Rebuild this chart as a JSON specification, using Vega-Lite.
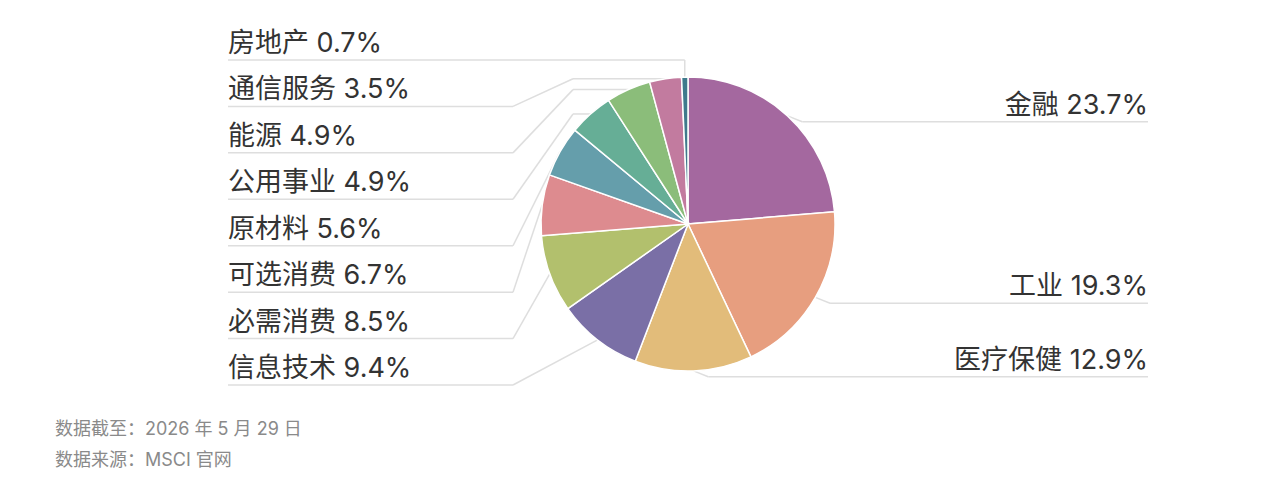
{
  "$schema": "https://vega.github.io/schema/vega-lite/v6.json",
  "width": 1280,
  "height": 503,
  "autosize": {"type": "none"},
  "padding": 0,
  "background": "#ffffff",
  "config": {"view": {"stroke": null}, "font": "Inter, Noto Sans CJK SC"},
  "title": {
    "text": ["数据截至：2026 年 5 月 29 日", "数据来源：MSCI 官网"],
    "orient": "bottom",
    "anchor": "start",
    "frame": "group",
    "dx": 55,
    "offset": -82,
    "baseline": "top",
    "fontSize": 18,
    "fontWeight": "normal",
    "lineHeight": 31,
    "color": "#8a8a8a",
    "font": "Inter, Noto Sans CJK SC"
  },
  "data": {
    "values": [
      {"sector": "金融", "weight": 23.7},
      {"sector": "工业", "weight": 19.3},
      {"sector": "医疗保健", "weight": 12.9},
      {"sector": "信息技术", "weight": 9.4},
      {"sector": "必需消费", "weight": 8.5},
      {"sector": "可选消费", "weight": 6.7},
      {"sector": "原材料", "weight": 5.6},
      {"sector": "公用事业", "weight": 4.9},
      {"sector": "能源", "weight": 4.9},
      {"sector": "通信服务", "weight": 3.5},
      {"sector": "房地产", "weight": 0.7}
    ]
  },
  "transform": [
    {"window": [{"op": "sum", "field": "weight", "as": "cumEnd"}, {"op": "row_number", "as": "idx"}], "frame": [null, 0]},
    {"joinaggregate": [{"op": "sum", "field": "weight", "as": "total"}, {"op": "count", "as": "n"}]},
    {"calculate": "2 * PI * (datum.cumEnd - datum.weight / 2) / datum.total", "as": "angle"},
    {"calculate": "sin(datum.angle)", "as": "ex"},
    {"calculate": "cos(datum.angle)", "as": "ey"},
    {"calculate": "datum.angle < PI", "as": "right"},
    {"calculate": "datum.right ? datum.ey - 0.04 : 1.1156 - 0.31585 * (datum.n - datum.idx)", "as": "ly"},
    {"calculate": "!datum.right && datum.ly > datum.ey", "as": "above"},
    {"calculate": "datum.right || datum.above || datum.ey < 0 ? datum.ex : min(datum.ex, -0.7823)", "as": "x1"},
    {"calculate": "datum.above ? datum.ly : datum.ey", "as": "y1"},
    {"calculate": "datum.right ? datum.ex + 0.1 : (datum.above ? datum.ex : -1.1905)", "as": "x2"},
    {"calculate": "datum.right ? 3.1293 : -3.1293", "as": "x3"},
    {"calculate": "datum.sector + ' ' + format(datum.weight, '.1f') + '%'", "as": "label"}
  ],
  "layer": [
    {
      "mark": {"type": "rule", "color": "#dedede", "strokeWidth": 1.5},
      "encoding": {
        "x": {"field": "ex", "type": "quantitative", "scale": {"domain": [-4.68027, 4.02721], "nice": false, "zero": false}, "axis": null},
        "y": {"field": "ey", "type": "quantitative", "scale": {"domain": [-1.89796, 1.52381], "nice": false, "zero": false}, "axis": null},
        "x2": {"field": "x1"},
        "y2": {"field": "y1"}
      }
    },
    {
      "mark": {"type": "rule", "color": "#dedede", "strokeWidth": 1.5},
      "encoding": {
        "x": {"field": "x1", "type": "quantitative", "scale": {"domain": [-4.68027, 4.02721], "nice": false, "zero": false}, "axis": null},
        "y": {"field": "y1", "type": "quantitative", "scale": {"domain": [-1.89796, 1.52381], "nice": false, "zero": false}, "axis": null},
        "x2": {"field": "x2"},
        "y2": {"field": "ly"}
      }
    },
    {
      "mark": {"type": "rule", "color": "#dedede", "strokeWidth": 1.5},
      "encoding": {
        "x": {"field": "x2", "type": "quantitative", "scale": {"domain": [-4.68027, 4.02721], "nice": false, "zero": false}, "axis": null},
        "y": {"field": "ly", "type": "quantitative", "scale": {"domain": [-1.89796, 1.52381], "nice": false, "zero": false}, "axis": null},
        "x2": {"field": "x3"},
        "y2": {"field": "ly"}
      }
    },
    {
      "mark": {"type": "arc", "outerRadius": 147, "stroke": "#ffffff", "strokeWidth": 1.5},
      "encoding": {
        "x": {"datum": 0, "type": "quantitative", "scale": {"domain": [-4.68027, 4.02721], "nice": false, "zero": false}, "axis": null},
        "y": {"datum": 0, "type": "quantitative", "scale": {"domain": [-1.89796, 1.52381], "nice": false, "zero": false}, "axis": null},
        "theta": {"field": "weight", "type": "quantitative", "stack": true},
        "order": {"field": "idx", "type": "quantitative"},
        "color": {
          "field": "sector",
          "type": "nominal",
          "legend": null,
          "scale": {
            "domain": ["金融", "工业", "医疗保健", "信息技术", "必需消费", "可选消费", "原材料", "公用事业", "能源", "通信服务", "房地产"],
            "range": ["#a4689f", "#e79e7f", "#e2bc7a", "#7a6fa6", "#b2c06d", "#dd8b8f", "#659eab", "#66ae96", "#8bbd7a", "#c27b9f", "#3f7a8c"]
          }
        }
      }
    },
    {
      "transform": [{"filter": "datum.right"}],
      "mark": {"type": "text", "align": "right", "baseline": "alphabetic", "dy": -8, "fontSize": 27, "color": "#333333", "font": "Inter, Noto Sans CJK SC"},
      "encoding": {
        "x": {"field": "x3", "type": "quantitative", "scale": {"domain": [-4.68027, 4.02721], "nice": false, "zero": false}, "axis": null},
        "y": {"field": "ly", "type": "quantitative", "scale": {"domain": [-1.89796, 1.52381], "nice": false, "zero": false}, "axis": null},
        "text": {"field": "label"}
      }
    },
    {
      "transform": [{"filter": "!datum.right"}],
      "mark": {"type": "text", "align": "left", "baseline": "alphabetic", "dy": -8, "fontSize": 27, "color": "#333333", "font": "Inter, Noto Sans CJK SC"},
      "encoding": {
        "x": {"field": "x3", "type": "quantitative", "scale": {"domain": [-4.68027, 4.02721], "nice": false, "zero": false}, "axis": null},
        "y": {"field": "ly", "type": "quantitative", "scale": {"domain": [-1.89796, 1.52381], "nice": false, "zero": false}, "axis": null},
        "text": {"field": "label"}
      }
    }
  ]
}
